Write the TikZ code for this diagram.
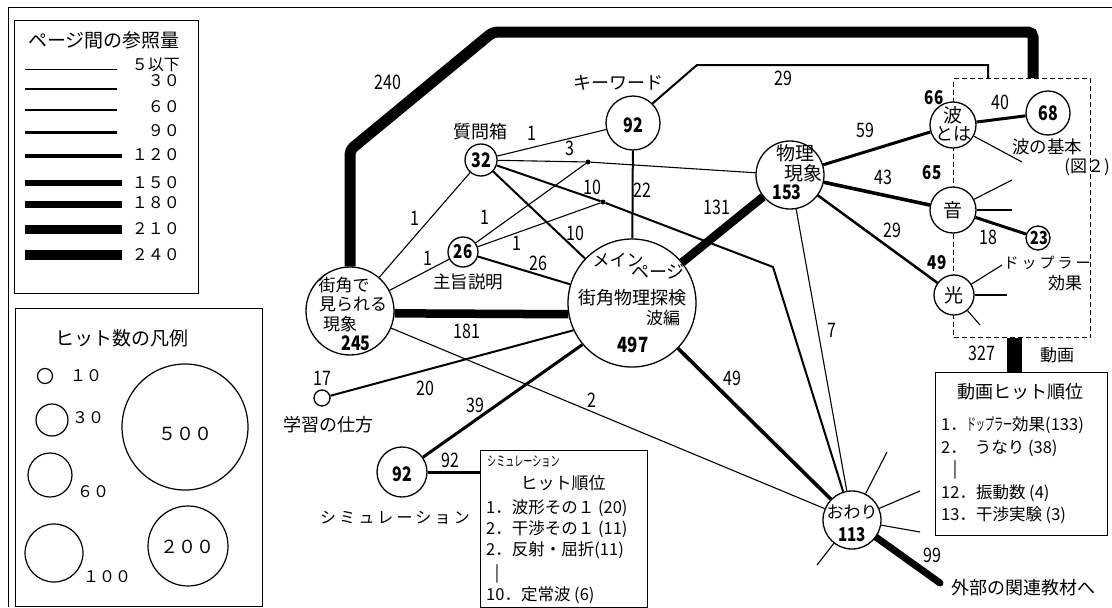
\documentclass[tikz,border=0pt]{standalone}
\usepackage{fontspec}
\usepackage{graphicx}
\setmainfont{Noto Sans CJK JP}
\newfontfamily\nf[FakeStretch=0.8]{Noto Sans CJK JP}
\newfontfamily\wf[LetterSpace=20]{Noto Sans CJK JP}
\newcommand\fs[1]{\fontsize{#1}{#1}\selectfont}
\newcommand\hw[2]{\scalebox{#1}[1]{#2}}
\pgfdeclarelayer{bg}
\pgfsetlayers{bg,main}
\tikzset{
  hub/.style={circle,draw,line width=1.3pt,fill=white,inner sep=0pt},
  lc/.style={circle,draw,line width=1.2pt,inner sep=0pt},
  boxf/.style={draw,line width=1pt,anchor=north west,inner sep=0pt},
  jct/.style={circle,fill,inner sep=0pt,minimum size=5pt},
  jp/.style={inner sep=0pt,font=\fs{17}},
  lgd/.style={inner sep=0pt,font=\fs{16}},
  en/.style={inner sep=0pt,font=\nf\fs{20}},
  nb/.style={inner sep=0pt,font=\nf\bfseries\fs{20}},
  l1/.style={line width=1.1pt},
  l2/.style={line width=2pt},
  l3/.style={line width=3pt},
  l4/.style={line width=3.6pt},
  l7/.style={line width=7pt,line cap=round},
  l9/.style={line width=8.5pt},
  l11/.style={line width=11pt},
  l15/.style={line width=15pt},
}
\begin{document}
\begin{tikzpicture}[x=1pt,y=-1pt]
\useasboundingbox (0,0) rectangle (1112,608);
% outer frame
\draw[line width=1pt] (8,607) -- (8,7) -- (1112,7);

% ---------- legend 1 ----------
\node[boxf,minimum width=184pt,minimum height=273pt] (leg1) at (14,20) {};
\node[jp,font=\fs{19}] (leg1t) at (104,40) {ページ間の参照量};
\foreach \ly/\ty/\w/\xe/\t [count=\i] in {69/65/1/117/５以下,89/81/1.5/117/３０,110/107/2/117/６０,132/131/3/117/９０,156/155/4/122/１２０,183/183/5.5/122/１５０,204/203/7/122/１８０,229/229/9/122/２１０,255/255/10.5/122/２４０}
{
  \draw[line width=\w pt] (25,\ly) -- (\xe,\ly);
  \node[lgd,anchor=east] (lgt\i) at (180,\ty) {\t};
}

% ---------- legend 2 ----------
\node[boxf,minimum width=247pt,minimum height=298pt] (leg2) at (15,308) {};
\node[jp,font=\fs{19}] (leg2t) at (122,338) {ヒット数の凡例};
\node[lc,minimum size=15pt] (c10) at (45,376) {};
\node[lgd,anchor=west] (c10t) at (70,376) {１０};
\node[lc,minimum size=32pt] (c30) at (52,420) {};
\node[lgd,anchor=west] (c30t) at (72,418) {３０};
\node[lc,minimum size=44pt] (c60) at (50,475) {};
\node[lgd,anchor=west] (c60t) at (77,492) {６０};
\node[lc,minimum size=58pt] (c100) at (54,553) {};
\node[lgd,anchor=west] (c100t) at (83,577) {１００};
\node[lc,minimum size=126pt] (c500) at (185,427) {};
\node[lgd,font=\fs{18}] (c500t) at (185,434) {５００};
\node[lc,minimum size=80pt] (c200) at (188,546) {};
\node[lgd,font=\fs{18}] (c200t) at (187,547) {２００};

% ---------- page nodes ----------
\node[hub,minimum size=88pt] (mach) at (350,311) {};
\node[hub,minimum size=32pt] (qbox) at (481,160) {};
\node[hub,minimum size=54pt] (kw) at (633,123) {};
\node[hub,minimum size=30pt] (shushi) at (463,252) {};
\node[hub,minimum size=128pt] (main) at (632,303) {};
\node[hub,minimum size=16pt] (learn) at (322,398) {};
\node[hub,minimum size=50pt] (sim) at (402,472) {};
\node[hub,minimum size=68pt] (phys) at (790,175) {};
\node[hub,minimum size=46pt] (wave) at (953,125) {};
\node[hub,minimum size=44pt] (w68) at (1048,113) {};
\node[hub,minimum size=46pt] (sound) at (953,210) {};
\node[hub,minimum size=24pt] (dop) at (1038,238) {};
\node[hub,minimum size=40pt] (light) at (954,295) {};
\node[hub,minimum size=58pt] (owari) at (852,520) {};
\node[jct] (dA) at (588,162) {};
\node[jct] (dB) at (603,202) {};
\node[boxf,minimum width=167pt,minimum height=157pt] (simbox) at (480,450) {};
\node[boxf,minimum width=172pt,minimum height=163pt] (mvbox) at (935,372) {};

% bends and free ends
\coordinate (p1) at (350,150);
\coordinate (p2) at (493,32);
\coordinate (p3) at (1033,32);
\coordinate (q1) at (697,65);
\coordinate (q2) at (988,65);
\coordinate (cb) at (773,267);
\coordinate (ext) at (940,583);
\coordinate (mv) at (1014,350);
\coordinate (s1) at (1022,162);
\coordinate (s2) at (1012,180);
\coordinate (s3) at (1012,210);
\coordinate (s4) at (1002,265);
\coordinate (s5) at (1007,295);
\coordinate (s6) at (980,325);
\coordinate (s7) at (887,452);
\coordinate (s8) at (920,491);
\coordinate (s9) at (920,532);
\coordinate (s10) at (817,565);

\begin{pgfonlayer}{bg}
\node[boxf,dashed,dash pattern=on 5pt off 3pt,minimum width=137pt,minimum height=259pt] (grp) at (953,78) {};
\draw[l11,rounded corners=5pt] (mach.north) -- (p1) -- (p2) -- (p3) -- (p3 |- grp.north);
\draw[l2] (kw.45) -- (q1) -- (q2) -- (q2 |- grp.north);
\draw[l1] (qbox) -- (kw);
\draw[l1] (qbox) -- (dA) -- (phys);
\draw[l2] (qbox) -- (dB) -- (cb) -- (owari);
\draw[l2] (qbox) -- (main);
\draw[l1] (qbox) -- (mach);
\draw[l1] (shushi) -- (mach);
\draw[l1] (shushi) -- (dA);
\draw[l1] (shushi) -- (dB);
\draw[l2] (shushi) -- (main);
\draw[l2] (kw) -- (main);
\draw[l9] (mach.-3) -- (main.190);
\draw[l1] (mach) -- (owari);
\draw[l2] (learn) -- (main.205);
\draw[l3] (sim) -- (main.220);
\draw[l3] (sim.east) -- (simbox.west |- sim.east);
\draw[l9] (main) -- (phys);
\draw[l4] (main) -- (owari);
\draw[l1] (phys) -- (owari);
\draw[l3] (phys) -- (wave);
\draw[l4] (phys) -- (sound);
\draw[line width=2.5pt] (phys) -- (light);
\draw[l3] (wave) -- (w68);
\draw[l3] (sound) -- (dop);
\draw[l7] (owari) -- (ext);
\draw[l15] (mv |- grp.south) -- (mv |- mvbox.north);
\foreach \s in {s1} \draw[l1] (wave) -- (\s);
\foreach \s in {s2,s3} \draw[l1] (sound) -- (\s);
\foreach \s in {s4,s5,s6} \draw[l1] (light) -- (\s);
\foreach \s in {s7,s8,s9,s10} \draw[l1] (owari) -- (\s);
\end{pgfonlayer}

% ---------- texts in nodes ----------
\node[jp] (t1) at (344,285) {街角で};
\node[jp] (t2) at (353,304) {見られる};
\node[jp] (t3) at (340,324) {現象};
\node[nb] (t4) at (356,343) {245};
\node[nb] (t5) at (481,160) {32};
\node[nb] (t6) at (633,125) {92};
\node[nb,font=\nf\bfseries\fs{19}] (t7) at (463,252) {26};
\node[jp,fill=white] (t8) at (618,260) {メイン};
\node[jp,font=\fs{18}] (t9) at (658,272) {ページ};
\node[jp,font=\fs{18}] (t10) at (632,298) {街角物理探検};
\node[jp] (t11) at (663,318) {波編};
\node[nb,font=\nf\bfseries\fs{21}] (t12) at (633,345) {497};
\node[jp,font=\fs{19}] (t13) at (795,153) {物理};
\node[jp,font=\fs{19}] (t14) at (803,173) {現象};
\node[nb] (t15) at (787,192) {153};
\node[jp,font=\fs{19}] (t16) at (953,115) {波};
\node[jp,font=\fs{18}] (t17) at (953,134) {とは};
\node[nb] (t18) at (1048,113) {68};
\node[jp,font=\fs{19}] (t19) at (953,210) {音};
\node[jp,font=\fs{19}] (t20) at (954,295) {光};
\node[nb,font=\nf\bfseries\fs{18}] (t21) at (1039,238) {23};
\node[jp] (t22) at (852,512) {おわり};
\node[nb,font=\nf\bfseries\fs{19}] (t23) at (852,535) {113};
\node[nb] (t24) at (402,474) {92};

% ---------- page labels ----------
\node[jp,font=\fs{18}] (u1) at (480,132) {質問箱};
\node[jp,font=\fs{18}] (u2) at (618,83) {キーワード};
\node[jp,font=\fs{17.5}] (u3) at (468,282) {主旨説明};
\node[jp,font=\fs{18}] (u4) at (328,425) {学習の仕方};
\node[jp,font=\wf\fs{16}] (u5) at (395,518) {シミュレーション};
\node[jp,font=\fs{17.5}] (u6) at (1047,147) {波の基本};
\node[jp] (u7) at (1087,167) {(図２)};
\node[jp,font=\wf\fs{15}] (u8) at (1047,263) {ドップラー};
\node[jp] (u9) at (1065,283) {効果};
\node[jp,font=\fs{18}] (u10) at (1023,588) {外部の関連教材へ};
\node[jp] (u11) at (1057,355) {動画};

% ---------- edge labels ----------
\node[en] (e1) at (388,82) {240};
\node[en] (e2) at (783,78) {29};
\node[en] (e3) at (532,133) {1};
\node[en] (e4) at (570,148) {3};
\node[en] (e5) at (592,187) {10};
\node[en] (e6) at (575,233) {10};
\node[en] (e7) at (415,218) {1};
\node[en] (e8) at (428,258) {1};
\node[en] (e9) at (485,217) {1};
\node[en] (e10) at (517,243) {1};
\node[en] (e11) at (538,263) {26};
\node[en] (e12) at (642,190) {22};
\node[en] (e13) at (467,331) {181};
\node[en] (e14) at (592,400) {2};
\node[en] (e15) at (425,388) {20};
\node[en] (e16) at (475,405) {39};
\node[en] (e17) at (450,460) {92};
\node[en] (e18) at (717,207) {131};
\node[en] (e19) at (732,378) {49};
\node[en] (e20) at (832,330) {7};
\node[en] (e21) at (865,130) {59};
\node[en] (e22) at (883,177) {43};
\node[en] (e23) at (892,230) {29};
\node[en] (e24) at (1000,102) {40};
\node[en] (e25) at (988,237) {18};
\node[nb,font=\nf\bfseries\fs{19}] (e26) at (934,98) {66};
\node[nb,font=\nf\bfseries\fs{19}] (e27) at (932,173) {65};
\node[nb,font=\nf\bfseries\fs{19}] (e28) at (937,263) {49};
\node[en] (e29) at (932,555) {99};
\node[en] (e30) at (982,353) {327};
\node[en] (e31) at (322,378) {17};

% ---------- simulation box ----------
\node[jp,anchor=west,font=\fs{14}] (sb0) at (487,462) {\hw{0.65}{シミュレーション}};
\node[jp] (sb1) at (563,483) {ヒット順位};
\node[jp,anchor=west,font=\fs{16.5}] (sb2) at (486,508) {1．波形その１ (20)};
\node[jp,anchor=west,font=\fs{16.5}] (sb3) at (486,529) {2．干渉その１ (11)};
\node[jp,anchor=west,font=\fs{16.5}] (sb4) at (486,550) {2．反射・屈折(11)};
\node[jp,font=\fs{16.5}] (sb5) at (497,574) {|};
\node[jp,anchor=west,font=\fs{16.5}] (sb6) at (486,595) {10．定常波 (6)};

% ---------- movie box ----------
\node[jp,font=\fs{18}] (mb0) at (1020,392) {動画ヒット順位};
\node[jp,anchor=west,font=\fs{16.5}] (mb1) at (941,425) {1．\hw{0.55}{ドップラー}効果(133)};
\node[jp,anchor=west,font=\fs{16.5}] (mb2) at (941,448) {2．\hspace{8pt}うなり (38)};
\node[jp,font=\fs{16.5}] (mb3) at (955,470) {|};
\node[jp,anchor=west,font=\fs{16.5}] (mb4) at (941,493) {12．振動数 (4)};
\node[jp,anchor=west,font=\fs{16.5}] (mb5) at (941,515) {13．干渉実験 (3)};
\end{tikzpicture}
\end{document}
